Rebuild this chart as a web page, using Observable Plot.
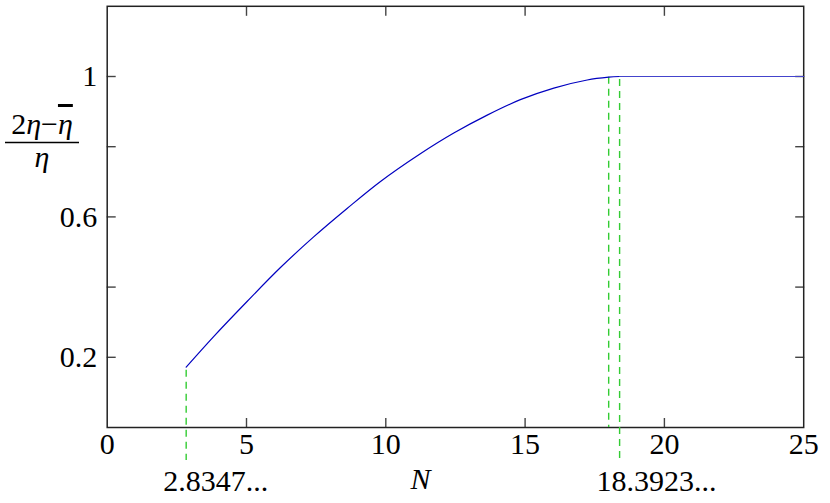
<!DOCTYPE html>
<html><head><meta charset="utf-8">
<script src="https://cdn.jsdelivr.net/npm/d3@7"></script>
<script src="https://cdn.jsdelivr.net/npm/@observablehq/plot@0.6"></script>
<style>body{margin:0;background:#fff}</style>
</head><body><div id="chart"></div>
<script>
// curve values (rising part)
const nValues = [2.8347, 3.82, 5.02, 6.21, 7.41, 8.61, 9.81, 11.24, 12.44, 13.64, 14.83, 16.03, 17.23, 18.0, 18.3923];
const ratioValues = [0.172, 0.259, 0.359, 0.455, 0.543, 0.624, 0.701, 0.780, 0.839, 0.890, 0.934, 0.967, 0.990, 0.998, 1.0];
// flat part
const flatN = [18.3923, 25];
const flatRatio = [1.0, 1.0];
// labelled dashed markers
const markerN = [2.8347, 18.3923];
const markerTop = [0.172, 1.0];
const markerLabels = ["2.8347...", "18.3923..."];
// unlabelled dashed marker
const plainMarkerN = [18.0];
const plainMarkerTop = [0.998];
// ticks
const xTickLabels = [0, 5, 10, 15, 20, 25];
const xInnerTicks = [5, 10, 15, 20];
const yTicks = [0.2, 0.4, 0.6, 0.8, 1];
const yTickLabels = [0.2, 0.6, 1];
const xLabel = "N";

const curve = nValues.map((n, i) => ({n, r: ratioValues[i]}));
const flat = flatN.map((n, i) => ({n, r: flatRatio[i]}));
const markers = markerN.map((n, i) => ({n, top: markerTop[i], label: markerLabels[i]}));
const plainMarkers = plainMarkerN.map((n, i) => ({n, top: plainMarkerTop[i]}));

const green = "#33cc33";
const blue = "#0000c0";
const tickColor = "#444";
const font = "'Liberation Serif', 'Times New Roman', serif";

const chart = Plot.plot({
  width: 830,
  height: 503,
  marginLeft: 106.7,
  marginRight: 26.8,
  marginTop: 5.8,
  marginBottom: 76,
  style: {fontFamily: font, fontSize: "30px", background: "#fff", color: "#000"},
  x: {domain: [0, 25]},
  y: {domain: [0, 1.2]},
  marks: [
    // inward ticks
    Plot.axisX({anchor: "bottom", ticks: xInnerTicks, tickSize: -9, tickFormat: () => "", label: null, stroke: tickColor, strokeWidth: 1.4}),
    Plot.axisX({anchor: "top", ticks: xInnerTicks, tickSize: -9, tickFormat: () => "", label: null, stroke: tickColor, strokeWidth: 1.4}),
    Plot.axisY({anchor: "left", ticks: yTicks, tickSize: -9, tickFormat: () => "", label: null, stroke: tickColor, strokeWidth: 1.4}),
    Plot.axisY({anchor: "right", ticks: yTicks, tickSize: -9, tickFormat: () => "", label: null, stroke: tickColor, strokeWidth: 1.4}),
    // tick labels
    Plot.axisX({anchor: "bottom", ticks: xTickLabels, tickSize: 0, tickPadding: 5, label: null, tickFormat: d3.format("~g"), fill: "#000"}),
    Plot.axisY({anchor: "left", ticks: yTickLabels, tickSize: 0, tickPadding: 10, label: null, tickFormat: d3.format("~g"), fill: "#000"}),
    Plot.frame({stroke: "#222", strokeWidth: 1.5}),
    // dashed markers
    Plot.ruleX(plainMarkers, {x: "n", y1: "top", y2: 0, stroke: green, strokeWidth: 1.4, strokeDasharray: "7,5"}),
    Plot.ruleX(markers, {x: "n", y1: "top", y2: 0, insetTop: 3, insetBottom: -33, stroke: green, strokeWidth: 1.4, strokeDasharray: "7,5"}),
    Plot.text(markers, {x: "n", frameAnchor: "bottom", text: "label", textAnchor: "start", lineAnchor: "bottom", dx: -23, dy: 63, fill: "#000"}),
    // curve
    Plot.line(curve, {x: "n", y: "r", curve: "catmull-rom", stroke: blue, strokeWidth: 1.2}),
    Plot.line(flat, {x: "n", y: "r", stroke: "#4444cc", strokeWidth: 1.2}),
    // x label
    Plot.text([xLabel], {frameAnchor: "bottom", textAnchor: "middle", lineAnchor: "bottom", dx: -35, dy: 61, fontStyle: "italic", fill: "#000"})
  ]
});

document.getElementById("chart").appendChild(chart);

// y-axis label as a fraction
const svg = d3.select(chart);
const g = svg.append("g").attr("font-family", font).attr("font-size", 30);
const num = g.append("text").attr("x", 42).attr("y", 134).attr("text-anchor", "middle");
num.append("tspan").text("2");
num.append("tspan").attr("font-style", "italic").text("η");
num.append("tspan").text("−");
num.append("tspan").attr("font-style", "italic").style("text-decoration", "overline").text("η");
g.append("line").attr("x1", 5).attr("x2", 79).attr("y1", 142.5).attr("y2", 142.5).attr("stroke", "#000").attr("stroke-width", 1.3);
g.append("text").attr("x", 42).attr("y", 167).attr("text-anchor", "middle").attr("font-style", "italic").text("η");
</script>
</body></html>
